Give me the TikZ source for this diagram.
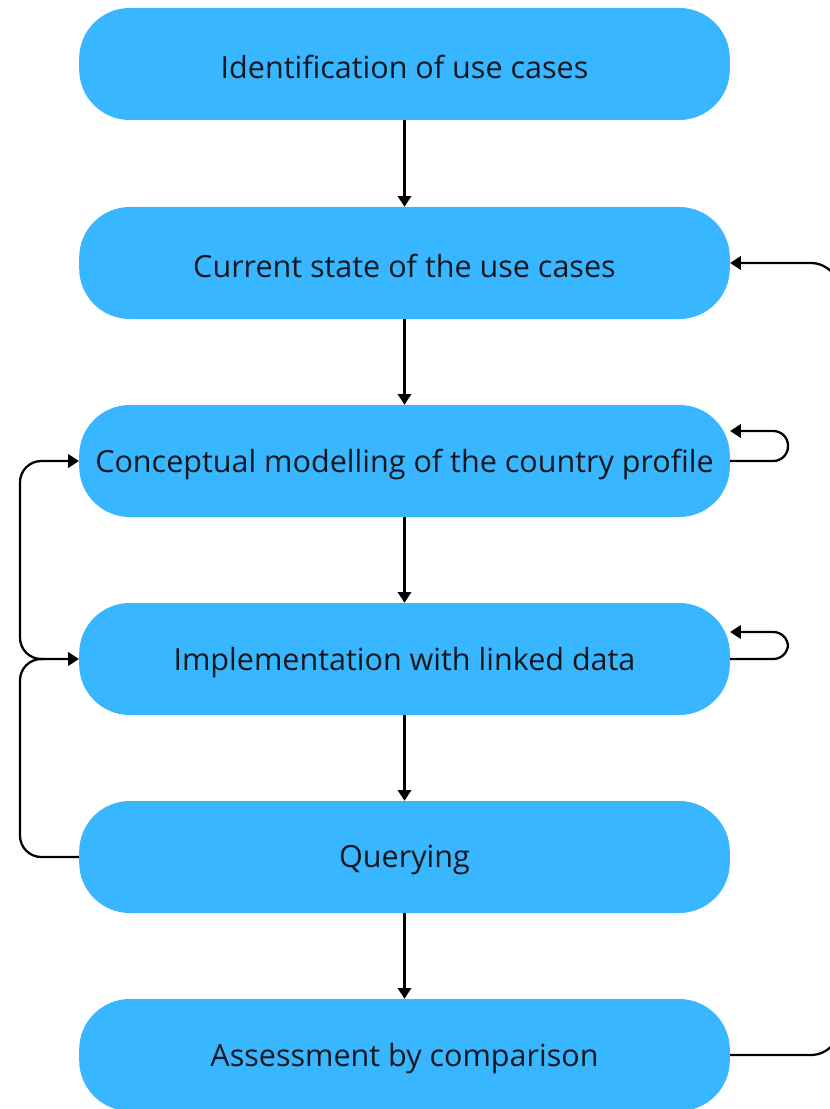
\documentclass[tikz,border=0pt]{standalone}
\usepackage{fontspec}
\setmainfont{Open Sans}
\usetikzlibrary{arrows.meta}
\definecolor{stepblue}{RGB}{56,182,255}
\definecolor{steptext}{RGB}{20,24,30}
\begin{document}
\begin{tikzpicture}[x=0.75pt,y=-0.75pt,
  stepbox/.style={fill=stepblue,draw=none,rounded corners=38pt,
    minimum width=488pt,minimum height=84pt,inner sep=0pt,
    font=\fontsize{22.9}{26}\selectfont,text=steptext},
  steplabel/.style={font=\fontsize{22.9}{26}\selectfont,text=steptext,inner sep=0pt},
  flow/.style={line width=1.7pt,draw=black,-{Triangle[length=8pt,width=10pt]}}]
\useasboundingbox (0,0) rectangle (830,1109);
\begin{scope}
\clip (0,0) rectangle (830,1109);
\node[stepbox] (s1) at (404.5,64)   {};
\node[stepbox] (s2) at (404.5,263)  {};
\node[stepbox] (s3) at (404.5,461)  {};
\node[stepbox] (s4) at (404.5,659)  {};
\node[stepbox] (s5) at (404.5,857)  {};
\node[stepbox] (s6) at (404.5,1055) {};

% labels, set a little below the box centres
\node[steplabel] (t1) at ([yshift=-2.5pt]s1.center) {Identification of use cases};
\node[steplabel] (t2) at ([yshift=-2.5pt]s2.center) {Current state of the use cases};
\node[steplabel] (t3) at ([yshift=-2.5pt]s3.center) {Conceptual modelling of the country profile};
\node[steplabel] (t4) at ([yshift=-2.5pt]s4.center) {Implementation with linked data};
\node[steplabel] (t5) at ([yshift=-2.5pt]s5.center) {Querying};
\node[steplabel] (t6) at ([yshift=-2.5pt]s6.center) {Assessment by comparison};

% main sequence
\draw[flow] (s1) -- (s2);
\draw[flow] (s2) -- (s3);
\draw[flow] (s3) -- (s4);
\draw[flow] (s4) -- (s5);
\draw[flow] (s5) -- (s6);

% feedback from the assessment back to the current state
\draw[flow,rounded corners=22pt] (s6.east) -- (840,1055) -- (840,263) -- (s2.east);

% self loops
\draw[flow,rounded corners=11pt] (s3.east) -- (788,461) -- (788,431) -- ([yshift=22.5pt]s3.east);
\draw[flow,rounded corners=11pt] (s4.east) -- (788,659) -- (788,632) -- ([yshift=20.25pt]s4.east);

% querying feeds back to implementation and modelling
\coordinate (fork) at (45,659);
\draw[flow,rounded corners=16pt] (s5.west) -- (20,857) -- (20,659) -- (s4.west);
\draw[flow,rounded corners=16pt] (fork) -- (20,659) -- (20,461) -- (s3.west);
\end{scope}
\end{tikzpicture}
\end{document}
